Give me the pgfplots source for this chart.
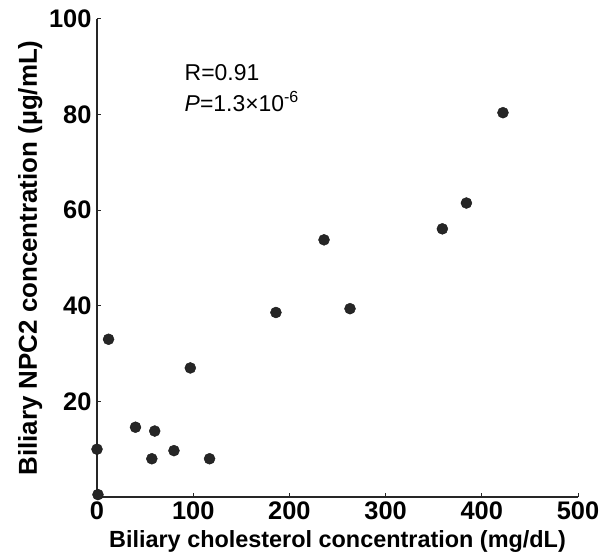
\documentclass[border=0pt]{standalone}
\usepackage{fontspec}
\setmainfont{Liberation Sans}
\usepackage{pgfplots}
\pgfplotsset{compat=1.18}

\begin{document}
\begin{tikzpicture}[x=1bp,y=1bp]
\begin{axis}[
    scale only axis,
    width=481bp, height=478bp,
    xmin=0, xmax=500,
    ymin=0, ymax=100,
    axis x line*=bottom,
    axis y line*=left,
    axis line style={black!85, line width=1.2bp},
    xtick={0,100,200,300,400,500},
    ytick={20,40,60,80,100},
    tick align=inside,
    major tick length=4bp,
    tick style={black!85, line width=1bp},
    /pgf/number format/assume math mode=true,
    tick label style={font=\bfseries\fontsize{25.5}{25.5}\selectfont},
    xticklabel style={yshift=-1bp},
    yticklabel style={xshift=-2bp},
    xlabel={Biliary cholesterol concentration (mg/dL)},
    ylabel={Biliary NPC2 concentration (\textmu g/mL)},
    xlabel style={font=\bfseries\fontsize{23.5}{23.5}\selectfont,
        at={(axis description cs:0.5,-0.094)}, anchor=center},
    ylabel style={font=\bfseries\fontsize{26}{26}\selectfont,
        at={(axis description cs:-0.139,0.5)}, anchor=center},
    clip=false,
]

% measured points
\addplot[only marks, mark=*, mark size=5.5bp, black!90, fill=black!85] coordinates {
    (1,0.5) (0,10) (12,33) (40,14.6) (57,8) (60,13.8) (80,9.7)
    (97,27) (117,8) (186,38.6) (236,53.8) (263,39.4)
    (359,56.1) (384,61.5) (422,80.4)
};

\node[anchor=west, align=left, font=\fontsize{23}{31}\selectfont, inner sep=0pt]
    at (axis cs:91,85.5) {R=0.91\\\textit{P}=1.3\texttimes10\textsuperscript{-6}};

\end{axis}
% page as large as the reference canvas
\path (current axis.south west) ++(-97bp,-61bp) rectangle ++(611bp,558bp);
\end{tikzpicture}
\end{document}
